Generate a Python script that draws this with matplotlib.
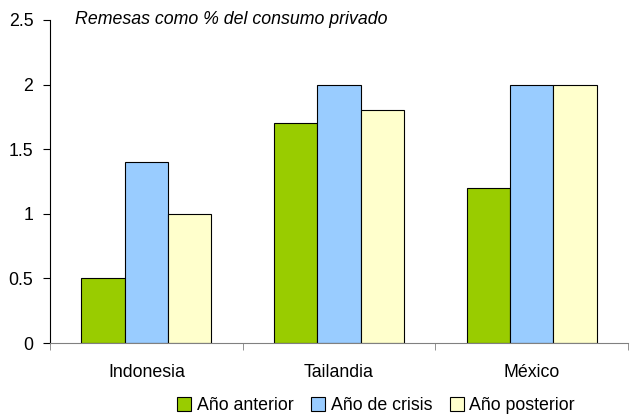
import numpy as np
import matplotlib.pyplot as plt

plt.rcParams['font.family'] = ['Liberation Sans', 'DejaVu Sans']

paises = ['Indonesia', 'Tailandia', 'México']
anio_anterior = [0.5, 1.7, 1.2]
anio_crisis = [1.4, 2.0, 2.0]
anio_posterior = [1.0, 1.8, 2.0]

series = ['Año anterior', 'Año de crisis', 'Año posterior']
colores = ['#99cc00', '#99ccff', '#ffffcc']

fs = 12.8

fig = plt.figure(figsize=(6.32, 4.19), dpi=100)
ax = fig.add_axes([50 / 632, 76 / 419, 578 / 632, 323 / 419])

x = np.arange(len(paises))
ancho = 0.225
for i, (vals, nombre, color) in enumerate(zip([anio_anterior, anio_crisis, anio_posterior], series, colores)):
    ax.bar(x + (i - 1) * ancho, vals, ancho, color=color, edgecolor='black',
           linewidth=0.8, label=nombre)

ax.set_xlim(-0.5, len(paises) - 0.5)
ax.set_ylim(0, 2.5)
ax.set_yticks([0, 0.5, 1, 1.5, 2, 2.5])
ax.set_yticklabels(['0', '0.5', '1', '1.5', '2', '2.5'])
ax.set_xticks(x)
ax.set_xticklabels(paises)
ax.set_xticks(np.arange(len(paises) + 1) - 0.5, minor=True)
ax.tick_params(axis='x', which='major', length=0, pad=15, labelsize=fs)
ax.tick_params(axis='x', which='minor', length=5, direction='out', color='#808080')
ax.tick_params(axis='y', length=5, direction='out', labelsize=fs, pad=7)

ax.spines['top'].set_visible(False)
ax.spines['right'].set_visible(False)
ax.spines['bottom'].set_color('#808080')
ax.spines['left'].set_color('black')

ax.text(0.043, 1.0, 'Remesas como % del consumo privado', transform=ax.transAxes,
        style='italic', fontsize=fs, va='center', ha='left')

fig.legend(loc='lower center', bbox_to_anchor=(0.595, -0.018), ncol=3, frameon=False,
           fontsize=fs, handlelength=0.8, handleheight=0.8, handletextpad=0.3,
           columnspacing=1.0, borderaxespad=0.3)

fig.savefig('out.png', dpi=100)
